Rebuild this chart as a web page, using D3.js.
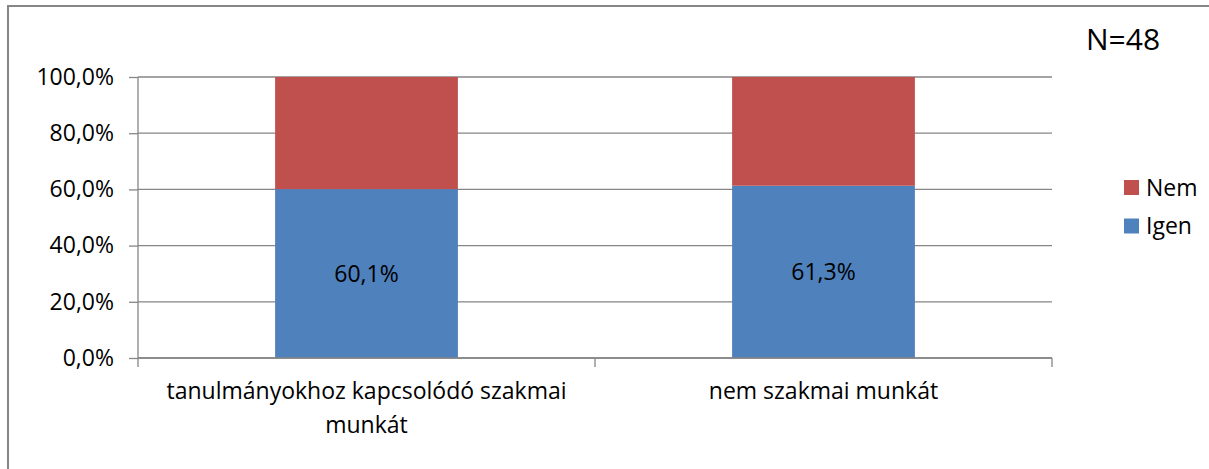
<!DOCTYPE html>
<html>
<head>
<meta charset="utf-8">
<script src="https://cdn.jsdelivr.net/npm/d3@7"></script>
<style>
  body { margin: 0; background: #fff; }
  text { font-family: "Open Sans", sans-serif; fill: #000; }
</style>
</head>
<body>
<svg id="chart"></svg>
<script>
// data
const categories = ['tanulmányokhoz kapcsolódó szakmai munkát', 'nem szakmai munkát'];
const categoryLines = [['tanulmányokhoz kapcsolódó szakmai', 'munkát'], ['nem szakmai munkát']];
const seriesNames = ['Igen', 'Nem'];
const igen = [60.1, 61.3];
const nem = [39.9, 38.7];
const seriesColors = ['#4F81BD', '#C0504D'];
const yTicks = [0, 20, 40, 60, 80, 100];
const nLabel = 'N=48';

function buildChart() {
    const width = 1209;
    const height = 469;
    const fs = 23;
    const svg = d3.select('#chart').attr('width', width).attr('height', height);

    // outer frame (right/bottom edges fall outside the picture)
    svg.append('rect')
        .attr('x', 8).attr('y', 6)
        .attr('width', width + 20).attr('height', height + 20)
        .attr('fill', 'none').attr('stroke', '#868686').attr('stroke-width', 2);

    const left = 138, right = 1052, top = 77, bottom = 358;

    const x = d3.scaleBand().domain(categories).range([left, right]).padding(0);
    const y = d3.scaleLinear().domain([0, 100]).range([bottom, top]);

    // gridlines
    svg.append('g')
        .selectAll('line')
        .data(yTicks)
        .enter()
        .append('line')
        .attr('x1', left).attr('x2', right)
        .attr('y1', d => y(d)).attr('y2', d => y(d))
        .attr('stroke', '#868686').attr('stroke-width', 1.3);

    // stacked bars
    const rows = categories.map((c, i) => ({ cat: c, Igen: igen[i], Nem: nem[i] }));
    const stack = d3.stack().keys(seriesNames)(rows);
    const barW = x.bandwidth() * 0.4;

    svg.append('g')
        .selectAll('g')
        .data(stack)
        .enter()
        .append('g')
        .attr('fill', (d, i) => seriesColors[i])
        .selectAll('rect')
        .data(d => d)
        .enter()
        .append('rect')
        .attr('x', d => x(d.data.cat) + (x.bandwidth() - barW) / 2)
        .attr('width', barW)
        .attr('y', d => y(d[1]))
        .attr('height', d => y(d[0]) - y(d[1]));

    // value labels on Igen
    svg.append('g')
        .selectAll('text')
        .data(categories)
        .enter()
        .append('text')
        .attr('x', d => x(d) + x.bandwidth() / 2)
        .attr('y', (d, i) => y(igen[i] / 2))
        .attr('dy', '0.35em')
        .attr('text-anchor', 'middle')
        .attr('font-size', fs)
        .text((d, i) => d3.format('.1f')(igen[i]).replace('.', ',') + '%');

    // y axis
    const yAxis = d3.axisLeft(y)
        .tickValues(yTicks)
        .tickSize(9)
        .tickPadding(15)
        .tickFormat(d => d3.format('.1f')(d).replace('.', ',') + '%');
    const yg = svg.append('g').attr('transform', `translate(${left},0)`).call(yAxis);
    yg.selectAll('line, path').attr('stroke', '#868686').attr('stroke-width', 1.3);
    yg.select('path').attr('d', `M0,${top}V${bottom}`);
    yg.selectAll('text').attr('font-size', fs).attr('fill', '#000')
        .style('font-family', '"Open Sans", sans-serif');

    // x axis
    const xg = svg.append('g');
    xg.append('line')
        .attr('x1', left).attr('x2', right).attr('y1', bottom).attr('y2', bottom)
        .attr('stroke', '#868686').attr('stroke-width', 1.3);
    const xTickPos = [left].concat(categories.map(c => x(c) + x.bandwidth()));
    xg.selectAll('line.tick')
        .data(xTickPos)
        .enter()
        .append('line')
        .attr('class', 'tick')
        .attr('x1', d => d).attr('x2', d => d)
        .attr('y1', bottom).attr('y2', bottom + 9)
        .attr('stroke', '#868686').attr('stroke-width', 1.3);

    const labels = xg.selectAll('text')
        .data(categories)
        .enter()
        .append('text')
        .attr('text-anchor', 'middle')
        .attr('font-size', fs)
        .attr('x', d => x(d) + x.bandwidth() / 2)
        .attr('y', 399);
    labels.each(function (d, i) {
        const t = d3.select(this);
        categoryLines[i].forEach((line, j) => {
            t.append('tspan')
                .attr('x', x(d) + x.bandwidth() / 2)
                .attr('dy', j === 0 ? 0 : 34)
                .text(line);
        });
    });

    // legend (Nem on top)
    const legendItems = [
        { name: 'Nem', color: seriesColors[1] },
        { name: 'Igen', color: seriesColors[0] }
    ];
    const lg = svg.append('g')
        .selectAll('g')
        .data(legendItems)
        .enter()
        .append('g')
        .attr('transform', (d, i) => `translate(1124,${180 + i * 38.5})`);
    lg.append('rect').attr('width', 15).attr('height', 15).attr('fill', d => d.color);
    lg.append('text').attr('x', 22).attr('y', 15.5).attr('font-size', fs).text(d => d.name);

    // N label
    svg.append('text')
        .attr('x', 1086).attr('y', 50)
        .attr('font-size', 30)
        .text(nLabel);
}

buildChart();
</script>
</body>
</html>
